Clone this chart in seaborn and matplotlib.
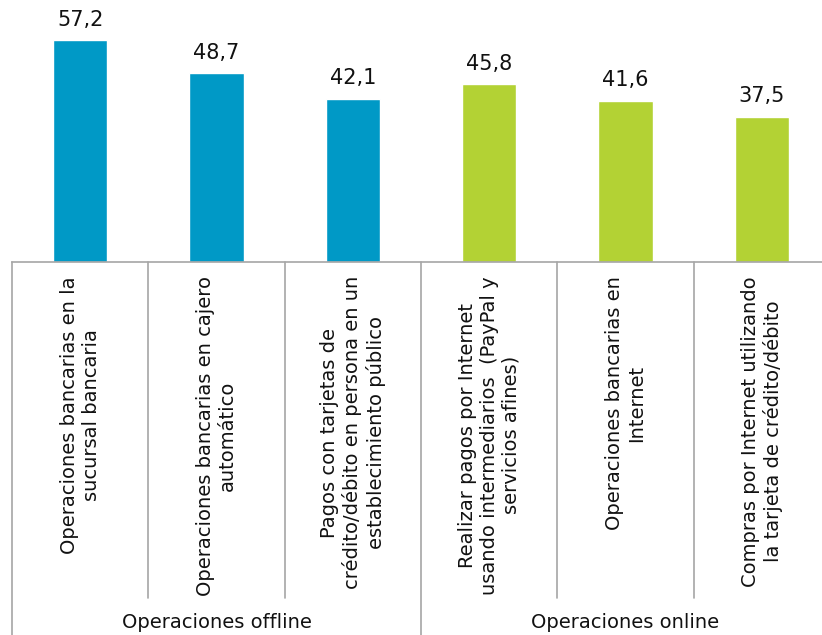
import seaborn as sns
import matplotlib.pyplot as plt
import matplotlib.transforms as mtransforms
import pandas as pd

# data
categorias = [
    "Operaciones bancarias en la\nsucursal bancaria",
    "Operaciones bancarias en cajero\nautomático",
    "Pagos con tarjetas de\ncrédito/débito en persona en un\nestablecimiento público",
    "Realizar pagos por Internet\nusando intermediarios  (PayPal y\nservicios afines)",
    "Operaciones bancarias en\nInternet",
    "Compras por Internet utilizando\nla tarjeta de crédito/débito",
]
valores = [57.2, 48.7, 42.1, 45.8, 41.6, 37.5]
grupos = ["Operaciones offline"] * 3 + ["Operaciones online"] * 3
nombres_grupos = ["Operaciones offline", "Operaciones online"]
colores = {"Operaciones offline": "#0099C6", "Operaciones online": "#B3D234"}


def main():
    df = pd.DataFrame({"cat": categorias, "valor": valores, "grupo": grupos})

    sns.set_style("white")
    plt.rcParams["font.family"] = ["DejaVu Sans"]
    line_col = "#A6A6A6"
    fs = 14
    txt_col = "#111111"

    fig = plt.figure(figsize=(8.22, 6.35), dpi=100)
    W, H = 822, 635
    left_px, right_px, base_px = 12, 830, 262
    ax = fig.add_axes([left_px / W, (H - base_px) / H, (right_px - left_px) / W, base_px / H])

    sns.barplot(data=df, x="cat", y="valor", hue="grupo", palette=colores,
                dodge=False, width=0.4, legend=False, ax=ax, saturation=1)

    ax.set_xlim(-0.5, 5.5)
    ax.set_ylim(0, base_px / 3.88)
    ax.set_xlabel("")
    ax.set_ylabel("")
    ax.set_xticks([])
    ax.set_yticks([])
    for s in ["left", "top", "right"]:
        ax.spines[s].set_visible(False)
    ax.spines["bottom"].set_color(line_col)
    ax.spines["bottom"].set_linewidth(1.2)

    # value labels with decimal comma
    for cont in ax.containers:
        labels = [f"{v:.1f}".replace(".", ",") for v in cont.datavalues]
        ax.bar_label(cont, labels=labels, padding=7.5, fontsize=15, color=txt_col)

    trans = mtransforms.blended_transform_factory(ax.transData, ax.transAxes)
    to_ax = lambda ypx: -(ypx - base_px) / base_px

    # category separators
    for i in range(7):
        x = i - 0.5
        y_end = 635 if i in (0, 3, 6) else 598
        ax.plot([x, x], [0, to_ax(y_end)], transform=trans, color=line_col,
                lw=1.2, clip_on=False)

    # rotated category labels
    for i, lab in enumerate(categorias):
        ax.text(i, to_ax(276), lab, transform=trans, rotation=90, ha="center",
                va="top", multialignment="center", fontsize=fs, color=txt_col)

    # group labels
    for j, g in enumerate(nombres_grupos):
        ax.text(1 + 3 * j, to_ax(623), g, transform=trans, ha="center",
                va="center", fontsize=fs, color=txt_col)

    fig.savefig("out.png", dpi=100)


if __name__ == "__main__":
    main()
